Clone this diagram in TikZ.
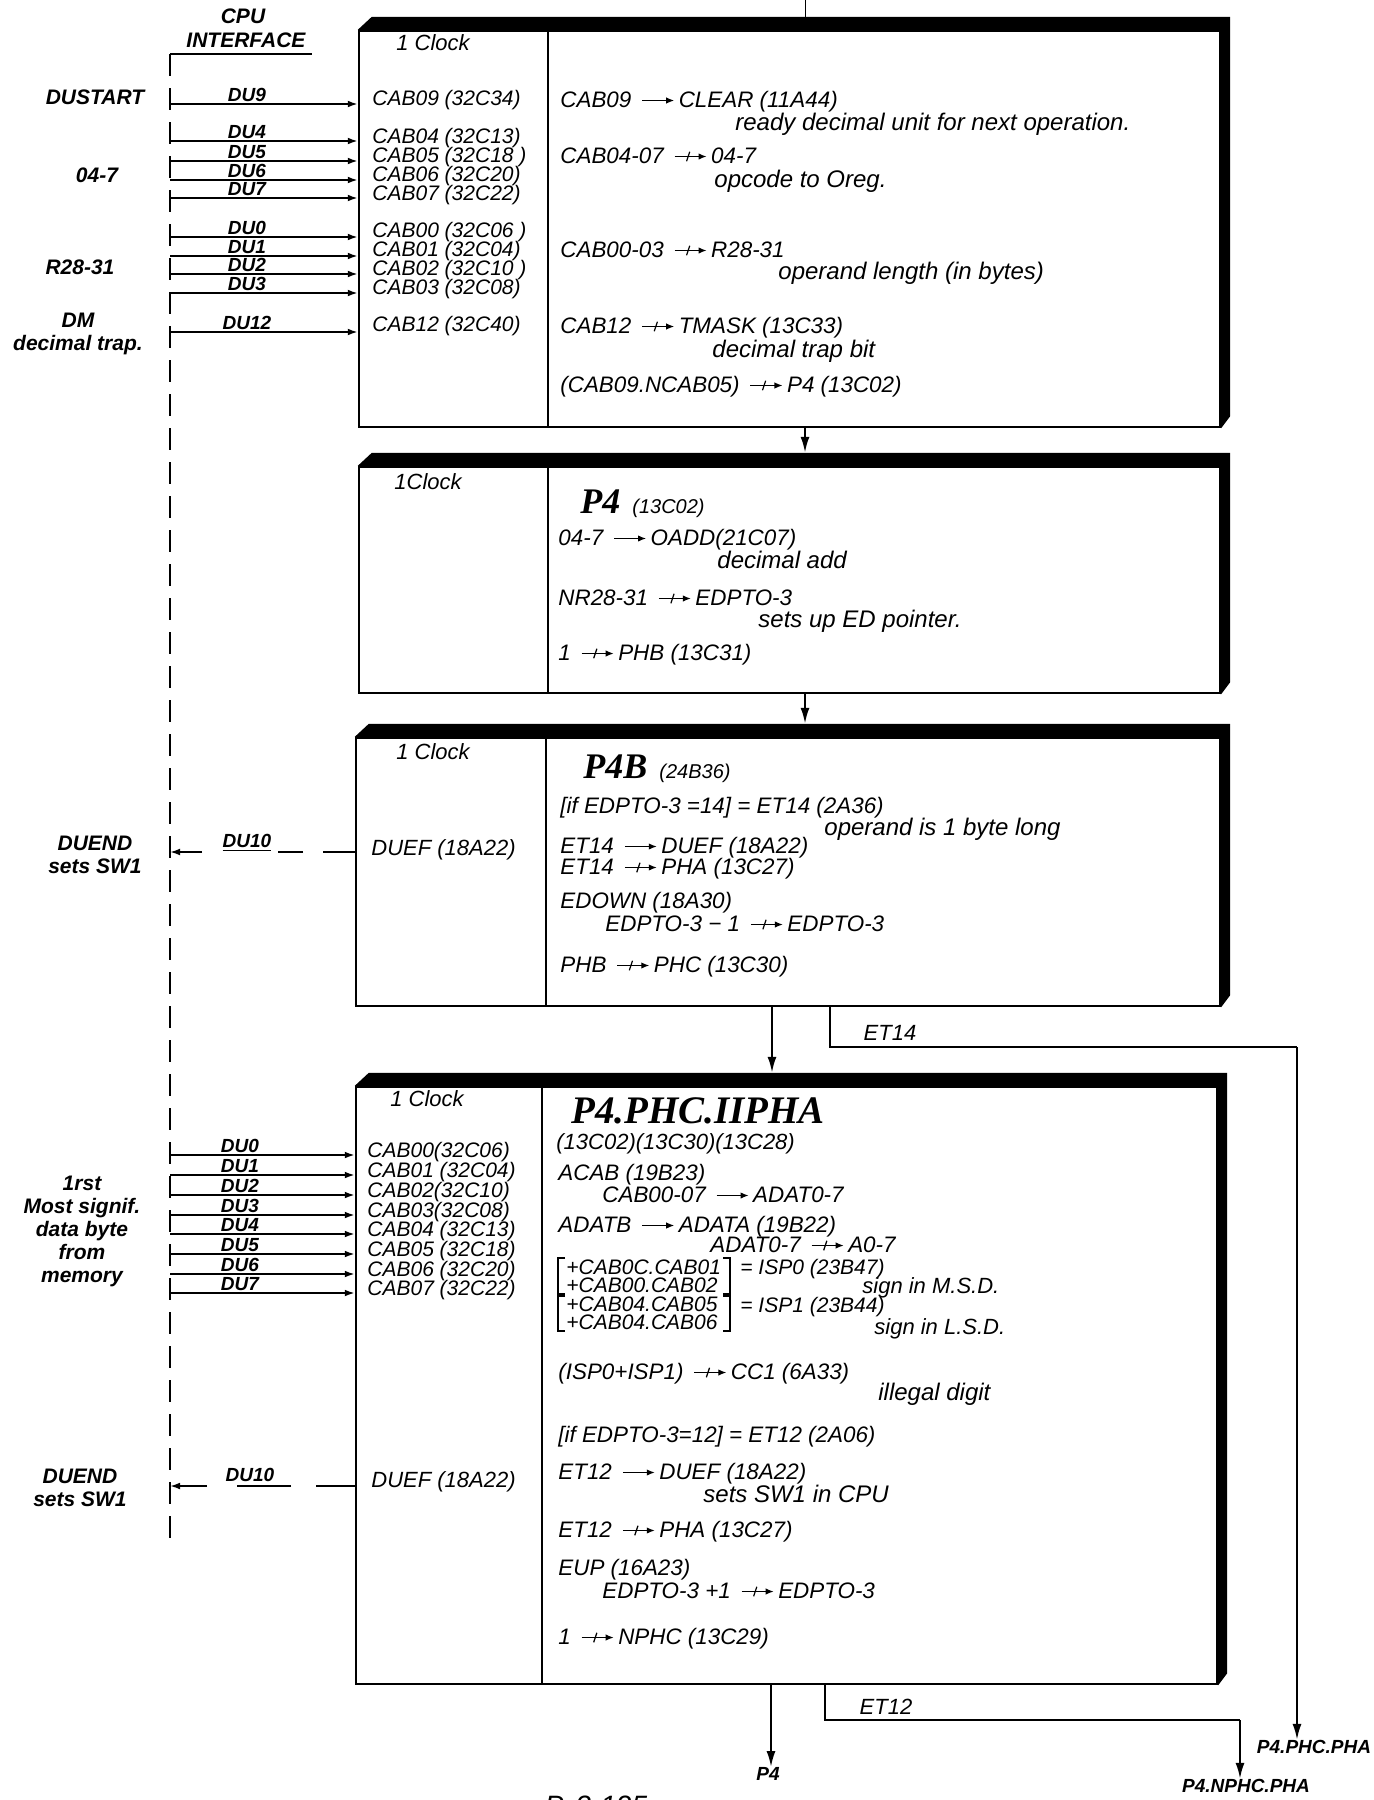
\documentclass[tikz,border=0pt]{standalone}
\usepackage{fontspec}
\setmainfont{Liberation Sans}
\newfontfamily\titlefont{Liberation Serif}
\usetikzlibrary{arrows.meta,fit,backgrounds,calc}
\newcommand{\tarr}{\kern2pt\tikz[baseline=-0.6ex]\draw[line width=0.6pt,-{Latex[length=4pt,width=3.2pt]}] (0pt,0pt) -- (16pt,0pt);\kern2pt}
\newcommand{\tsarr}{\kern2pt\tikz[baseline=-0.6ex]{\draw[line width=0.6pt,-{Latex[length=4pt,width=3.2pt]}] (0pt,0pt) -- (16pt,0pt); \draw[line width=0.6pt] (6pt,-2.4pt) -- (7.6pt,2.4pt);}\kern2pt}
\tikzset{
  tx/.style={anchor=west, inner sep=0pt, text height=7.6pt, text depth=0pt, font=\itshape\fontsize{11}{12}\selectfont},
  rx/.style={tx, font=\itshape\fontsize{11.2}{12}\selectfont},
  bx/.style={tx, font=\itshape\fontsize{10.5}{12}\selectfont},
  nt/.style={tx, font=\itshape\fontsize{12}{13}\selectfont},
  snt/.style={tx, font=\itshape\fontsize{11}{12}\selectfont},
  lab/.style={inner sep=0pt, align=center, font=\bfseries\itshape\fontsize{10.5}{11.5}\selectfont},
  dul/.style={inner sep=0pt, font=\bfseries\itshape\fontsize{9.5}{11}\selectfont},
  outl/.style={inner sep=0pt, font=\bfseries\itshape\fontsize{9.5}{11}\selectfont},
  etl/.style={inner sep=0pt, font=\itshape\fontsize{11}{12}\selectfont},
  ttl/.style={anchor=base west, inner sep=0pt},
  boxst/.style={draw, line width=1.2pt, fill=white, inner sep=0pt},
  divl/.style={line width=1.2pt},
  bar/.style={fill=black},
  arr/.style={line width=0.9pt, -{Latex[length=5pt,width=3.4pt]}},
  conn/.style={line width=0.9pt},
  bigarr/.style={line width=1.1pt, -{Latex[length=8pt,width=4.5pt]}},
  brk/.style={line width=0.8pt},
}
\newcommand{\bigT}[1]{{\titlefont\bfseries\itshape\fontsize{18}{20}\selectfont #1}}
\newcommand{\hugeT}[1]{{\titlefont\bfseries\itshape\fontsize{19.5}{21}\selectfont #1}}
\newcommand{\smT}[1]{{\itshape\fontsize{10}{11}\selectfont #1}}
\begin{document}
\begin{tikzpicture}[x=0.5pt,y=-0.5pt]
\useasboundingbox (0,0) rectangle (1374,1800);

% ---------- boxes ----------
\coordinate (b1a) at (359,31);   \coordinate (b1b) at (1220,427);
\coordinate (b2a) at (359,467);  \coordinate (b2b) at (1220,693);
\coordinate (b3a) at (356,738);  \coordinate (b3b) at (1220,1006);
\coordinate (b4a) at (356,1087); \coordinate (b4b) at (1217,1684);
\node[boxst, fit=(b1a)(b1b)] (b1) {};
\node[boxst, fit=(b2a)(b2b)] (b2) {};
\node[boxst, fit=(b3a)(b3b)] (b3) {};
\node[boxst, fit=(b4a)(b4b)] (b4) {};
\begin{scope}[on background layer]
\foreach \b in {b1,b2,b3,b4}{
  \fill[bar] (\b.north west) -- ($(\b.north west)+(14,-13)$) -- ($(\b.north east)+(9,-13)$)
     -- ($(\b.south east)+(9,-12)$) -- (\b.south east) -- cycle;
}
\end{scope}
\coordinate (d1) at (548,0); \coordinate (d3) at (546,0); \coordinate (d4) at (542,0);
\draw[divl] (b1.north -| d1) -- (b1.south -| d1);
\draw[divl] (b2.north -| d1) -- (b2.south -| d1);
\draw[divl] (b3.north -| d3) -- (b3.south -| d3);
\draw[divl] (b4.north -| d4) -- (b4.south -| d4);

% ---------- CPU interface bus ----------
\node[lab] (cpu) at (243,16) {CPU};
\node[lab] (intf) at (246,40) {INTERFACE};
\coordinate (bustop) at (170,54);
\coordinate (ulend) at (312,54);
\coordinate (busbot) at (170,1545);
\draw[line width=1pt] (bustop) -- (ulend);
\draw[line width=1pt, dash pattern=on 11pt off 6pt] (bustop) -- (busbot);

% ---------- box 1 inputs ----------
\foreach \lab/\yy in {DU9/104,DU4/141,DU5/161,DU6/180,DU7/198,DU0/237,DU1/256,DU2/274,DU3/293,DU12/332}{
  \draw[arr] (bustop |- 0,\yy) -- (b1.west |- 0,\yy);
  \node[dul] at (247,\yy-9) {\lab};
}
\node[tx] at (396,43) {1 Clock};
\node[bx] at (372,98) {CAB09 (32C34)};
\node[bx] at (372,136) {CAB04 (32C13)};
\node[bx] at (372,155) {CAB05 (32C18 )};
\node[bx] at (372,174) {CAB06 (32C20)};
\node[bx] at (372,193) {CAB07 (32C22)};
\node[bx] at (372,230) {CAB00 (32C06 )};
\node[bx] at (372,249) {CAB01 (32C04)};
\node[bx] at (372,268) {CAB02 (32C10 )};
\node[bx] at (372,287) {CAB03 (32C08)};
\node[bx] at (372,324) {CAB12 (32C40)};

\node[lab] at (95,97) {DUSTART};
\node[lab] at (97,175) {04-7};
\node[lab] at (80,267) {R28-31};
\node[lab] at (78,334) {DM\\decimal trap.};

\node[rx] at (560,100) {CAB09 \tarr CLEAR (11A44)};
\node[nt] at (735,123) {ready decimal unit for next operation.};
\node[rx] at (560,156) {CAB04-07 \tsarr 04-7};
\node[nt] at (714,180) {opcode to Oreg.};
\node[rx] at (560,250) {CAB00-03 \tsarr R28-31};
\node[nt] at (778,272) {operand length (in bytes)};
\node[rx] at (560,326) {CAB12 \tsarr TMASK (13C33)};
\node[nt] at (712,350) {decimal trap bit};
\node[rx] at (560,385) {(CAB09.NCAB05) \tsarr P4 (13C02)};

% ---------- box 2 ----------
\node[tx] at (394,482) {1Clock};
\node[ttl] at (580,513) {\bigT{P4}\kern6pt\smT{(13C02)}};
\node[rx] at (558,538) {04-7 \tarr OADD(21C07)};
\node[nt] at (717,561) {decimal add};
\node[rx] at (558,598) {NR28-31 \tsarr EDPTO-3};
\node[nt] at (758,620) {sets up ED pointer.};
\node[rx] at (558,653) {1 \tsarr PHB (13C31)};

% ---------- box 3 ----------
\node[tx] at (396,752) {1 Clock};
\node[tx] (duef3) at (371,848) {DUEF (18A22)};
\node[ttl] at (583,778) {\bigT{P4B}\kern6pt\smT{(24B36)}};
\node[rx] at (560,806) {[if EDPTO-3 =14] = ET14 (2A36)};
\node[nt] at (824,828) {operand is 1 byte long};
\node[rx] at (560,846) {ET14 \tarr DUEF (18A22)};
\node[rx] at (560,867) {ET14 \tsarr PHA (13C27)};
\node[rx] at (560,901) {EDOWN (18A30)};
\node[rx] at (605,924) {EDPTO-3 − 1 \tsarr EDPTO-3};
\node[rx] at (560,965) {PHB \tsarr PHC (13C30)};

\coordinate (du3a) at (323,852); \coordinate (du3b) at (303,852);
\coordinate (du3c) at (278,852); \coordinate (du3d) at (202,852);
\draw[conn] (b3.west |- du3a) -- (du3a);
\draw[conn] (du3b) -- (du3c);
\draw[arr] (du3d) -- (bustop |- du3d);
\node[dul] at (247,843) {\underline{DU10}};
\node[lab] at (95,855) {DUEND\\sets SW1};

% ---------- box 4 ----------
\node[tx] at (390,1099) {1 Clock};
\foreach \lab/\yy in {DU0/1155,DU1/1175,DU2/1195,DU3/1215,DU4/1234,DU5/1254,DU6/1274,DU7/1293}{
  \draw[arr] (bustop |- 0,\yy) -- (b4.west |- 0,\yy);
  \node[dul] at (240,\yy-9) {\lab};
}
\node[bx] at (367,1150) {CAB00(32C06)};
\node[bx] at (367,1170) {CAB01 (32C04)};
\node[bx] at (367,1190) {CAB02(32C10)};
\node[bx] at (367,1210) {CAB03(32C08)};
\node[bx] at (367,1229) {CAB04 (32C13)};
\node[bx] at (367,1249) {CAB05 (32C18)};
\node[bx] at (367,1269) {CAB06 (32C20)};
\node[bx] at (367,1288) {CAB07 (32C22)};
\node[lab] at (82,1231) {1rst\\Most signif.\\data byte\\from\\memory};

\node[ttl] at (571,1123) {\hugeT{P4.PHC.IIPHA}};
\node[tx] at (556,1142) {(13C02)(13C30)(13C28)};
\node[rx] at (558,1173) {ACAB (19B23)};
\node[rx] at (602,1195) {CAB00-07 \tarr ADAT0-7};
\node[rx] at (558,1225) {ADATB \tarr ADATA (19B22)};
\node[rx] at (710,1245) {ADAT0-7 \tsarr A0-7};
\node[bx] at (566,1267) {+CAB0C.CAB01};
\node[bx] at (566,1285) {+CAB00.CAB02};
\node[bx] at (566,1304) {+CAB04.CAB05};
\node[bx] at (566,1322) {+CAB04.CAB06};
\draw[brk] (565,1258) -- (558,1258) -- (558,1294) -- (565,1294);
\draw[brk] (723,1258) -- (730,1258) -- (730,1294) -- (723,1294);
\draw[brk] (565,1296) -- (558,1296) -- (558,1331) -- (565,1331);
\draw[brk] (723,1296) -- (730,1296) -- (730,1331) -- (723,1331);
\node[bx] at (740,1267) {= ISP0 (23B47)};
\node[snt] at (862,1286) {sign in M.S.D.};
\node[bx] at (740,1305) {= ISP1 (23B44)};
\node[snt] at (874,1327) {sign in L.S.D.};
\node[rx] at (558,1372) {(ISP0+ISP1) \tsarr CC1 (6A33)};
\node[nt] at (878,1393) {illegal digit};
\node[rx] at (558,1435) {[if EDPTO-3=12] = ET12 (2A06)};
\node[rx] at (558,1472) {ET12 \tarr DUEF (18A22)};
\node[nt] at (703,1495) {sets SW1 in CPU};
\node[rx] at (558,1530) {ET12 \tsarr PHA (13C27)};
\node[rx] at (558,1568) {EUP (16A23)};
\node[rx] at (602,1591) {EDPTO-3 +1 \tsarr EDPTO-3};
\node[rx] at (558,1637) {1 \tsarr NPHC (13C29)};

\node[tx] (duef4) at (371,1480) {DUEF (18A22)};
\coordinate (du4a) at (316,1486); \coordinate (du4b) at (291,1486);
\coordinate (du4c) at (237,1486); \coordinate (du4d) at (207,1486);
\draw[conn] (b4.west |- du4a) -- (du4a);
\draw[conn] (du4b) -- (du4c);
\draw[arr] (du4d) -- (bustop |- du4d);
\node[dul] at (250,1475) {DU10};
\node[lab] at (80,1488) {DUEND\\sets SW1};

% ---------- flow between boxes ----------
\coordinate (topin) at (805,0);
\coordinate (x1) at (805,0);
\coordinate (x3) at (772,0);
\draw[line width=0.5pt] (topin) -- ($(b1.north -| topin)+(0,-13)$);
\draw[bigarr] (b1.south -| x1) -- ($(b2.north -| x1)+(0,-13)$);
\draw[bigarr] (b2.south -| x1) -- ($(b3.north -| x1)+(0,-13)$);
\draw[bigarr] (b3.south -| x3) -- ($(b4.north -| x3)+(0,-13)$);

% ET14
\coordinate (e14a) at (830,0);
\coordinate (e14b) at (830,1047);
\coordinate (e14c) at (1297,1047);
\node[outl] (pha) at (1314,1747) {P4.PHC.PHA};
\draw[conn] (b3.south -| e14a) -- (e14b) -- (e14c);
\draw[bigarr] (e14c) -- (pha.north -| e14c);
\node[etl] at (890,1033) {ET14};

% bottom outputs
\coordinate (p4x) at (771,0);
\node[outl] (p4o) at (768,1774) {P4};
\draw[bigarr] (b4.south -| p4x) -- (p4o.north -| p4x);
\coordinate (e12a) at (825,0);
\coordinate (e12b) at (825,1720);
\coordinate (e12c) at (1240,1720);
\node[outl] (npha) at (1246,1786) {P4.NPHC.PHA};
\draw[conn] (b4.south -| e12a) -- (e12b) -- (e12c);
\draw[bigarr] (e12c) -- (npha.north -| e12c);
\node[etl] at (886,1707) {ET12};

\node[anchor=north, inner sep=0pt, font=\itshape\fontsize{14}{16}\selectfont] at (596,1796) {P. 3-125};
\end{tikzpicture}
\end{document}
